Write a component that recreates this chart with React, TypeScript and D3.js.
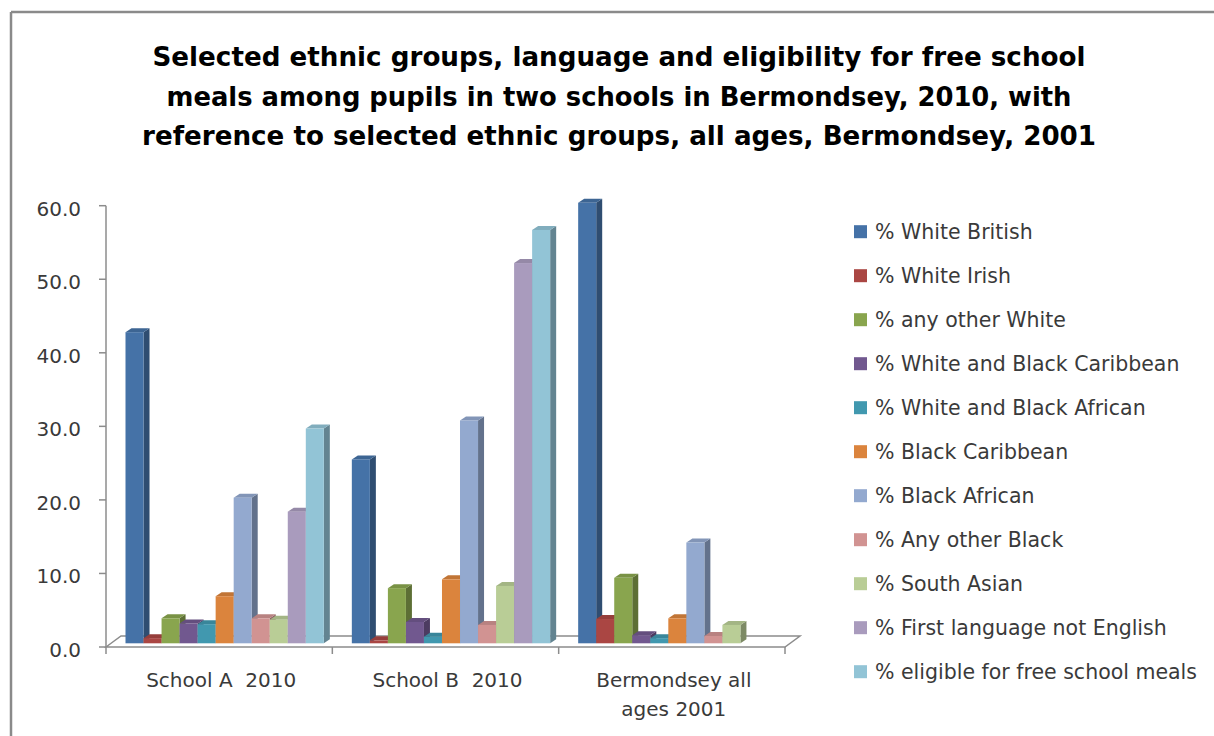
import React from "react";
import * as d3 from "d3";

const titleLines = [
  "Selected ethnic groups, language and eligibility for free school",
  "meals among pupils in two schools in Bermondsey, 2010, with",
  "reference to selected ethnic groups, all ages, Bermondsey, 2001",
];

const categories = ["School A  2010", "School B  2010", "Bermondsey all ages 2001"];
const categoryLabelLines = [["School A  2010"], ["School B  2010"], ["Bermondsey all", "ages 2001"]];

const seriesNames = [
  "% White British",
  "% White Irish",
  "% any other White",
  "% White and Black Caribbean",
  "% White and Black African",
  "% Black Caribbean",
  "% Black African",
  "% Any other Black",
  "% South Asian",
  "% First language not English",
  "% eligible for free school meals",
];

const seriesColors = [
  "#4572A7",
  "#AA4643",
  "#89A54E",
  "#71588F",
  "#4198AF",
  "#DB843D",
  "#93A9CF",
  "#D19392",
  "#B9CD96",
  "#A99BBD",
  "#92C4D6",
];

const whiteBritish = [42.3, 25.0, 59.9];
const whiteIrish = [0.7, 0.4, 3.3];
const otherWhite = [3.4, 7.5, 8.9];
const whiteBlackCaribbean = [2.7, 2.9, 1.1];
const whiteBlackAfrican = [2.6, 0.9, 0.7];
const blackCaribbean = [6.4, 8.7, 3.4];
const blackAfrican = [19.8, 30.3, 13.7];
const otherBlack = [3.4, 2.5, 1.0];
const southAsian = [3.2, 7.8, 2.5];
const firstLanguageNotEnglish = [17.9, 51.7, null];
const freeSchoolMeals = [29.2, 56.2, null];

const seriesValues: (number | null)[][] = [
  whiteBritish,
  whiteIrish,
  otherWhite,
  whiteBlackCaribbean,
  whiteBlackAfrican,
  blackCaribbean,
  blackAfrican,
  otherBlack,
  southAsian,
  firstLanguageNotEnglish,
  freeSchoolMeals,
];

const yTicks = [0, 10, 20, 30, 40, 50, 60];

export default function App() {
  const W = 1214;
  const H = 736;
  const axisX = 106;
  const floorY = 647;
  const plotRight = 785;
  const depthX = 15;
  const depthY = -11;
  const barShiftX = 0;
  const barShiftY = -3.7;
  const sideDX = 6;
  const sideDY = -4;

  const y = d3.scaleLinear().domain([0, 60]).range([floorY, 205.7]);
  const x0 = d3.scaleBand<string>().domain(categories).range([axisX, plotRight]).padding(0);
  const bw = x0.bandwidth();
  const x1 = d3
    .scaleBand<number>()
    .domain(d3.range(seriesNames.length))
    .range([19.5, 19.5 + 18.03 * seriesNames.length])
    .padding(0);

  const font = "'DejaVu Sans', sans-serif";
  const textColor = "#3a3a3a";
  const axisColor = "#8c8c8c";

  const bars: React.ReactNode[] = [];
  categories.forEach((cat, ci) => {
    seriesValues.forEach((vals, si) => {
      const v = vals[ci];
      if (v === null || v === undefined) return;
      const xl = (x0(cat) as number) + (x1(si) as number) + barShiftX;
      const w = x1.bandwidth();
      const xr = xl + w;
      const yb = y(0) + barShiftY;
      const yt = y(v) + barShiftY;
      const base = d3.color(seriesColors[si])!;
      const side = base.darker(1.1).formatHex();
      const top = base.darker(0.35).formatHex();
      bars.push(
        <g key={`${ci}-${si}`}>
          <polygon
            points={`${xr},${yb} ${xr + sideDX},${yb + sideDY} ${xr + sideDX},${yt + sideDY} ${xr},${yt}`}
            fill={side}
          />
          <polygon
            points={`${xl},${yt} ${xl + sideDX},${yt + sideDY} ${xr + sideDX},${yt + sideDY} ${xr},${yt}`}
            fill={top}
          />
          <rect x={xl} y={yt} width={w} height={Math.max(0, yb - yt)} fill={seriesColors[si]} />
        </g>
      );
    });
  });

  return (
    <svg
      width={W}
      height={H}
      style={{ position: "absolute", left: 0, top: 0, background: "#fff" }}
    >
      <rect x={0} y={0} width={W} height={H} fill="#ffffff" />
      {/* frame */}
      <line x1={11} y1={12} x2={W} y2={12} stroke="#8a8a8a" strokeWidth={2.5} />
      <line x1={11} y1={12} x2={11} y2={H} stroke="#8a8a8a" strokeWidth={2.5} />

      {/* title */}
      {titleLines.map((t, i) => (
        <text
          key={i}
          x={619}
          y={[66, 106, 145][i]}
          textAnchor="middle"
          fontFamily={font}
          fontWeight="bold"
          fontSize={27}
          fill="#000"
          textLength={[933, 905, 954][i]}
          lengthAdjust="spacingAndGlyphs"
        >
          {t}
        </text>
      ))}

      {/* floor */}
      <polygon
        points={`${axisX},${floorY} ${axisX + depthX},${floorY + depthY} ${plotRight + depthX},${floorY + depthY} ${plotRight},${floorY}`}
        fill="#ffffff"
        stroke={axisColor}
        strokeWidth={1.5}
      />

      {/* y axis */}
      <line x1={axisX} y1={y(60)} x2={axisX} y2={floorY} stroke={axisColor} strokeWidth={1.5} />
      {yTicks.map((t) => (
        <g key={t}>
          <line x1={axisX - 7} y1={y(t)} x2={axisX} y2={y(t)} stroke={axisColor} strokeWidth={1.5} />
          <text
            x={81}
            y={y(t) + 3}
            textAnchor="end"
            dominantBaseline="central"
            fontFamily={font}
            fontSize={20}
            fill={textColor}
          >
            {t.toFixed(1)}
          </text>
        </g>
      ))}

      {/* category ticks */}
      {[...categories.map((c) => x0(c) as number), plotRight].map((xv, i) => (
        <line key={i} x1={xv} y1={floorY} x2={xv} y2={floorY + 7} stroke={axisColor} strokeWidth={1.5} />
      ))}

      {bars}

      {/* category labels */}
      {categories.map((c, ci) =>
        categoryLabelLines[ci].map((ln, li) => (
          <text
            key={`${ci}-${li}`}
            x={(x0(c) as number) + bw / 2 + 2}
            y={687 + li * 29}
            textAnchor="middle"
            fontFamily={font}
            fontSize={20}
            fill={textColor}
            style={{ whiteSpace: "pre" }}
          >
            {ln}
          </text>
        ))
      )}

      {/* legend */}
      {seriesNames.map((n, i) => {
        const cy = 231.7 + i * 44;
        return (
          <g key={n}>
            <rect x={854} y={cy - 6.5} width={13} height={13} fill={seriesColors[i]} />
            <text
              x={875}
              y={cy}
              dominantBaseline="central"
              fontFamily={font}
              fontSize={20.5}
              fill={textColor}
            >
              {n}
            </text>
          </g>
        );
      })}
    </svg>
  );
}
